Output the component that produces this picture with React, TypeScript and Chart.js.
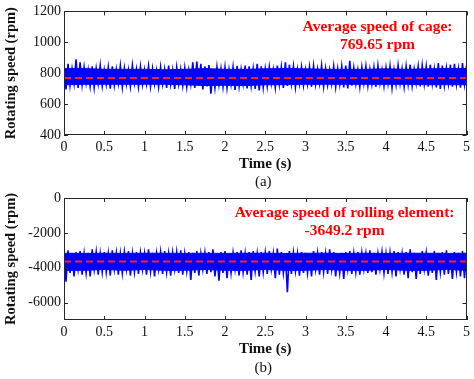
import React, { useEffect, useRef } from "react";
import { Chart, registerables } from "chart.js";
Chart.register(...registerables);

const PEAK_STEP = 0.05; // spacing between successive peaks (troughs fall halfway)
const CORE_STEP = 0.25; // spacing of the solid-band edge readings
const xTicks = [0, 0.5, 1, 1.5, 2, 2.5, 3, 3.5, 4, 4.5, 5];

// (a) cage speed (rpm)
const cageCoreUpper = [830, 830, 825, 825, 825, 822, 825, 830, 825, 825, 828, 830, 828, 825, 825, 825, 828, 825, 828, 830, 830];
const cageCoreLower = [725, 728, 728, 728, 728, 728, 725, 720, 722, 720, 725, 726, 728, 728, 728, 728, 728, 728, 726, 726, 726];
const cagePeaks = [
  845, 860, 828, 890, 870, 840, 822, 845, 830, 850,
  820, 838, 845, 825, 848, 832, 820, 850, 826, 842,
  822, 845, 830, 818, 840, 825, 850, 820, 838, 826,
  835, 820, 870, 875, 860, 845, 852, 822, 840, 828,
  838, 822, 840, 848, 825, 850, 845, 830, 860, 845,
  828, 840, 822, 850, 840, 870, 855, 845, 825, 840,
  822, 840, 848, 826, 850, 830, 822, 845, 828, 845,
  850, 880, 835, 822, 840, 845, 826, 838, 848, 822,
  835, 845, 822, 850, 828, 845, 855, 826, 845, 850,
  845, 855, 828, 865, 850, 835, 855, 860, 830, 865,
  850,
];
const cageTroughs = [
  695, 720, 732, 705, 725, 735, 715, 708, 732, 718,
  728, 700, 722, 734, 710, 730, 715, 735, 712, 728,
  732, 715, 730, 712, 730, 705, 728, 698, 730, 720,
  712, 730, 705, 722, 695, 715, 668, 705, 725, 712,
  705, 728, 692, 715, 730, 702, 718, 698, 688, 708,
  716, 732, 708, 728, 705, 718, 732, 710, 730, 722,
  730, 712, 728, 734, 715, 725, 732, 712, 728, 708,
  702, 720, 732, 712, 735, 720, 730, 712, 734, 718,
  732, 705, 725, 732, 712, 730, 720, 735, 715, 730,
  712, 730, 708, 698, 722, 732, 712, 728, 706, 730,
  720,
];
const cageMean = 769.65;
const cageYTicks = [400, 600, 800, 1000, 1200];

// (b) rolling element speed (rpm)
const rollCoreUpper = [-3170, -3180, -3170, -3180, -3170, -3170, -3180, -3170, -3180, -3170, -3170, -3180, -3170, -3170, -3180, -3170, -3180, -3170, -3170, -3180, -3170];
const rollCoreLower = [-4150, -4150, -4100, -4150, -4100, -4150, -4150, -4100, -4150, -4150, -4100, -4150, -4150, -4100, -4150, -4150, -4100, -4150, -4150, -4100, -4150];
const rollPeaks = [
  -3150, -3000, -3200, -3100, -3050, -3200, -3150, -2950, -3100, -3200,
  -3100, -3200, -3000, -3150, -3200, -3100, -3050, -3200, -3100, -3150,
  -3200, -2950, -3150, -3200, -3100, -3050, -3200, -3150, -3100, -3000,
  -3200, -3100, -3150, -3050, -3200, -3150, -3100, -2950, -3200, -3100,
  -3050, -3200, -3150, -3100, -3000, -3200, -3100, -3050, -3200, -3100,
  -3150, -3050, -3200, -2900, -3100, -3200, -3050, -3150, -3200, -3100,
  -3150, -3200, -3050, -3150, -3100, -3200, -2950, -3100, -3200, -3150,
  -3100, -3050, -3200, -3100, -3150, -3200, -3000, -3150, -3200, -3100,
  -3200, -3150, -3050, -3100, -3200, -3100, -2950, -3150, -3200, -3050,
  -3150, -3200, -3050, -3150, -3100, -3000, -3200, -3100, -3150, -3050,
  -3150,
];
const rollTroughs = [
  -4800, -4300, -4500, -4100, -4400, -4300, -4500, -4100, -4400, -4250,
  -4250, -4450, -4100, -4400, -4300, -4100, -4450, -4250, -4350, -4100,
  -4400, -4200, -4500, -4100, -4350, -4250, -4450, -4100, -4300, -4400,
  -4200, -4700, -4300, -4450, -4100, -4350, -4250, -4500, -4750, -4300,
  -4600, -4300, -4100, -4450, -4250, -4400, -4700, -4200, -4500, -4250,
  -4350, -4100, -4600, -4400, -4300, -5400, -4350, -4200, -4450, -4300,
  -4300, -4500, -4100, -4400, -4250, -4350, -4100, -4500, -4300, -4650,
  -4100, -4350, -4250, -4400, -4100, -4300, -4250, -4400, -4100, -4300,
  -4350, -4250, -4500, -4100, -4400, -4600, -4250, -4650, -4350, -4100,
  -4450, -4300, -4700, -4250, -4400, -4350, -4650, -4250, -4500, -4600,
  -4300,
];
const rollMean = -3649.2;
const rollYTicks = [-6000, -4000, -2000, 0];

const FONT = '"Liberation Serif", "Times New Roman", serif';

const framePlugin = {
  id: "frame",
  afterDraw(chart: any, _args: any, opts: any) {
    const { ctx, chartArea: a, scales } = chart;
    ctx.save();
    ctx.strokeStyle = "#262626";
    ctx.lineWidth = 1;
    ctx.strokeRect(Math.round(a.left) + 0.5, Math.round(a.top) + 0.5, Math.round(a.right - a.left) - 1, Math.round(a.bottom - a.top) - 1);
    const tl = 4;
    ctx.beginPath();
    scales.x.ticks.forEach((t: any) => {
      const px = Math.round(scales.x.getPixelForValue(t.value)) + 0.5;
      ctx.moveTo(px, a.bottom);
      ctx.lineTo(px, a.bottom - tl);
      ctx.moveTo(px, a.top);
      ctx.lineTo(px, a.top + tl);
    });
    scales.y.ticks.forEach((t: any) => {
      const py = Math.round(scales.y.getPixelForValue(t.value)) + 0.5;
      ctx.moveTo(a.left, py);
      ctx.lineTo(a.left + tl, py);
      ctx.moveTo(a.right, py);
      ctx.lineTo(a.right - tl, py);
    });
    ctx.stroke();
    ctx.fillStyle = "#ff0000";
    ctx.font = `bold 15.5px ${FONT}`;
    ctx.textAlign = "center";
    ctx.textBaseline = "middle";
    (opts.lines || []).forEach((l: string, i: number) => {
      ctx.fillText(l, a.left + opts.cx * (a.right - a.left), a.top + opts.cy + i * 18);
    });
    ctx.fillStyle = "#111";
    ctx.font = `15px ${FONT}`;
    ctx.fillText(opts.label, (a.left + a.right) / 2 - 2, a.bottom + opts.labelDy);
    ctx.restore();
  },
};

function makeConfig(
  coreUpper: number[], coreLower: number[], peaks: number[], troughs: number[], mean: number,
  yTicks: number[], yMin: number, yMax: number, padTop: number, padBottom: number, frame: any
) {
  const signal: { x: number; y: number }[] = [];
  peaks.forEach((p, i) => {
    signal.push({ x: i * PEAK_STEP, y: p });
    signal.push({ x: i * PEAK_STEP + PEAK_STEP / 2, y: troughs[i] });
  });
  const coreU = coreUpper.map((v, i) => ({ x: i * CORE_STEP, y: v }));
  const coreL = coreLower.map((v, i) => ({ x: i * CORE_STEP, y: v }));
  return {
    type: "line",
    data: {
      datasets: [
        {
          data: [{ x: 0, y: mean }, { x: 5, y: mean }],
          borderColor: "#ff2020",
          borderWidth: 2,
          borderDash: [7, 4],
          pointRadius: 0,
          fill: false,
          order: -1,
        },
        {
          data: signal,
          borderColor: "#0000ff",
          borderWidth: 1.6,
          pointRadius: 0,
          fill: false,
          tension: 0,
          order: 1,
        },
        {
          data: coreU,
          borderColor: "#0000ff",
          borderWidth: 1,
          pointRadius: 0,
          fill: false,
          tension: 0,
          order: 2,
        },
        {
          data: coreL,
          borderColor: "#0000ff",
          borderWidth: 1,
          backgroundColor: "#0000ff",
          pointRadius: 0,
          fill: "-1",
          tension: 0,
          order: 2,
        },
      ],
    },
    options: {
      responsive: false,
      animation: false,
      layout: { padding: { top: padTop, left: 0, right: 7, bottom: padBottom } },
      plugins: {
        legend: { display: false },
        tooltip: { enabled: false },
        frame,
      },
      scales: {
        x: {
          type: "linear",
          min: 0,
          max: 5,
          grid: { display: false, drawTicks: false },
          border: { display: false },
          afterBuildTicks: (s: any) => { s.ticks = xTicks.map((v) => ({ value: v })); },
          afterFit: (s: any) => { s.height = 54; },
          ticks: {
            padding: 4,
            color: "#111",
            font: { family: FONT, size: 14 },
            callback: (v: any) => String(v),
            maxRotation: 0,
            autoSkip: false,
          },
          title: {
            display: true,
            text: "Time (s)",
            color: "#111",
            font: { family: FONT, size: 15, weight: "bold" },
            padding: { top: 0, bottom: 16 },
          },
        },
        y: {
          type: "linear",
          min: yMin,
          max: yMax,
          grid: { display: false, drawTicks: false },
          border: { display: false },
          afterBuildTicks: (s: any) => { s.ticks = yTicks.map((v) => ({ value: v })); },
          afterFit: (s: any) => { s.width = 64; },
          ticks: {
            padding: 3,
            color: "#111",
            font: { family: FONT, size: 14 },
            callback: (v: any) => String(v),
            autoSkip: false,
          },
          title: {
            display: true,
            text: "Rotating speed (rpm)",
            color: "#111",
            font: { family: FONT, size: 14.5, weight: "bold" },
            padding: { top: 3, bottom: 0 },
          },
        },
      },
    },
    plugins: [framePlugin],
  };
}

function Panel({ config, top, height }: { config: any; top: number; height: number }) {
  const ref = useRef<HTMLCanvasElement | null>(null);
  useEffect(() => {
    if (!ref.current) return;
    const chart = new Chart(ref.current, config);
    return () => chart.destroy();
  }, []);
  return (
    <canvas
      ref={ref}
      width={474}
      height={height}
      style={{ position: "absolute", left: 0, top, width: 474, height }}
    />
  );
}

export default function App() {
  const cfgA = makeConfig(cageCoreUpper, cageCoreLower, cagePeaks, cageTroughs, cageMean, cageYTicks, 400, 1200, 11, 0, {
    lines: ["Average speed of cage:", "769.65 rpm"],
    cx: 0.779,
    cy: 16,
    label: "(a)",
    labelDy: 47,
  });
  const cfgB = makeConfig(rollCoreUpper, rollCoreLower, rollPeaks, rollTroughs, rollMean, rollYTicks, -7000, 0, 13, 5, {
    lines: ["Average speed of rolling element:", "-3649.2 rpm"],
    cx: 0.697,
    cy: 15,
    label: "(b)",
    labelDy: 48,
  });
  return (
    <div style={{ position: "absolute", left: 0, top: 0, width: 474, height: 379, background: "#fff", overflow: "hidden" }}>
      <Panel config={cfgA} top={0} height={189} />
      <Panel config={cfgB} top={185} height={194} />
    </div>
  );
}
